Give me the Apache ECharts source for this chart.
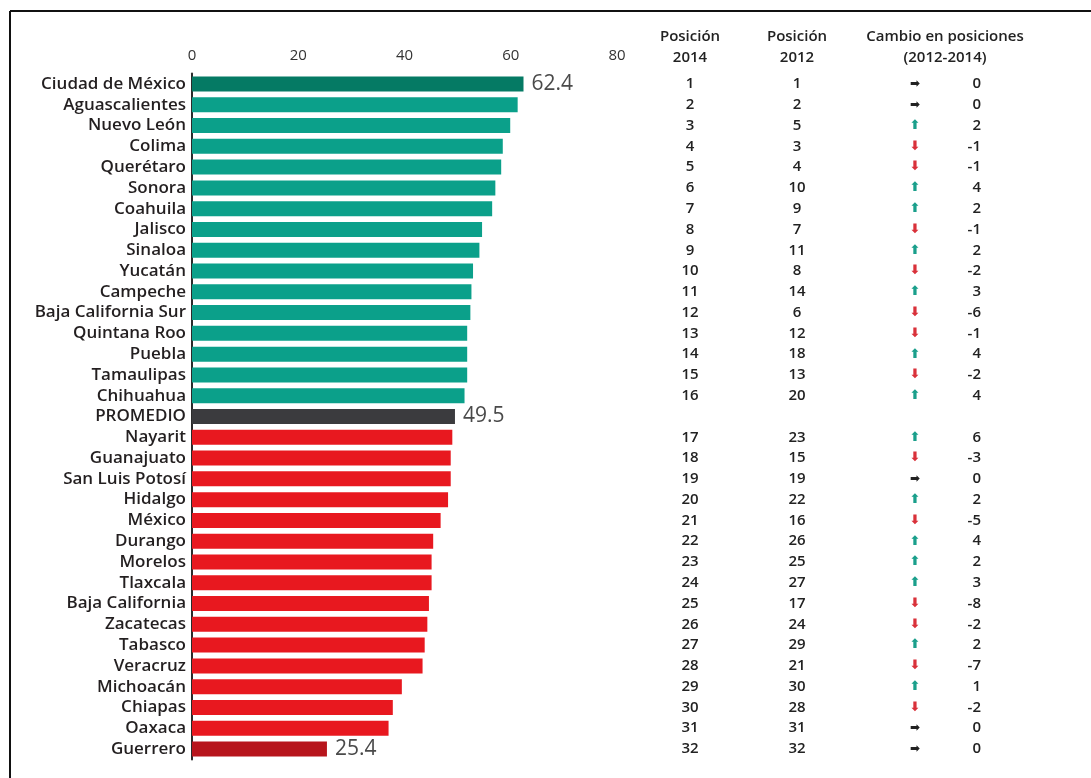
<!DOCTYPE html>
<html>
<head>
<meta charset="utf-8">
<script src="https://cdn.jsdelivr.net/npm/echarts@6/dist/echarts.min.js"></script>
<style>
  html, body { margin: 0; padding: 0; background: #fff; }
  #chart { width: 1091px; height: 778px; }
</style>
</head>
<body>
<div id="chart"></div>
<script>
// estados (incluye la fila de promedio)
const states = ['Ciudad de México', 'Aguascalientes', 'Nuevo León', 'Colima', 'Querétaro', 'Sonora',
  'Coahuila', 'Jalisco', 'Sinaloa', 'Yucatán', 'Campeche', 'Baja California Sur', 'Quintana Roo',
  'Puebla', 'Tamaulipas', 'Chihuahua', 'PROMEDIO', 'Nayarit', 'Guanajuato', 'San Luis Potosí',
  'Hidalgo', 'México', 'Durango', 'Morelos', 'Tlaxcala', 'Baja California', 'Zacatecas', 'Tabasco',
  'Veracruz', 'Michoacán', 'Chiapas', 'Oaxaca', 'Guerrero'];
const scores = [62.4, 61.3, 59.9, 58.5, 58.2, 57.1, 56.5, 54.6, 54.1, 52.9, 52.6, 52.4, 51.8, 51.8,
  51.8, 51.3, 49.5, 49.0, 48.7, 48.7, 48.2, 46.8, 45.4, 45.1, 45.1, 44.6, 44.3, 43.8, 43.4, 39.5,
  37.8, 37.0, 25.4];
const pos2014 = [1, 2, 3, 4, 5, 6, 7, 8, 9, 10, 11, 12, 13, 14, 15, 16, null, 17, 18, 19, 20, 21,
  22, 23, 24, 25, 26, 27, 28, 29, 30, 31, 32];
const pos2012 = [1, 2, 5, 3, 4, 10, 9, 7, 11, 8, 14, 6, 12, 18, 13, 20, null, 23, 15, 19, 22, 16,
  26, 25, 27, 17, 24, 29, 21, 30, 28, 31, 32];
const cambio = [0, 0, 2, -1, -1, 4, 2, -1, 2, -2, 3, -6, -1, 4, -2, 4, null, 6, -3, 0, 2, -5, 4, 2,
  3, -8, -2, 2, -7, 1, -2, 0, 0];
const xTicks = [0, 20, 40, 60, 80];
const labeled = ['Ciudad de México', 'PROMEDIO', 'Guerrero'];

const FONT = '"Open Sans", sans-serif';
const promedio = scores[states.indexOf('PROMEDIO')];

let chart = echarts.init(document.getElementById('chart'));

function barColor(name, i) {
  if (name === 'PROMEDIO') return '#3b3b3e';
  if (i === 0) return '#057a64';
  if (i === states.length - 1) return '#b7151c';
  return scores[i] >= promedio ? '#0ba08a' : '#e8181f';
}

let barData = scores.map((v, i) => ({
  value: v,
  itemStyle: { color: barColor(states[i], i) },
  label: {
    show: labeled.indexOf(states[i]) > -1,
    position: 'right',
    distance: 8,
    fontSize: 21,
    color: '#4a4a4a',
    fontFamily: FONT
  }
}));

// columnas de la tabla: ejes de categorias extra en el mismo grid
function tableAxis(list, offset, align, formatter, rich) {
  return {
    type: 'category',
    gridIndex: 0,
    position: 'right',
    inverse: true,
    offset: offset,
    data: list.map(v => v === null ? '' : String(v)),
    axisLine: { show: false },
    axisTick: { show: false },
    axisLabel: {
      interval: 0,
      margin: 0,
      align: align,
      fontSize: 15,
      fontWeight: 600,
      color: '#222',
      fontFamily: FONT,
      formatter: formatter,
      rich: rich
    }
  };
}

let arrowRich = {
  up: { color: '#1a9f8b', fontSize: 13, fontFamily: 'DejaVu Sans' },
  down: { color: '#d9313a', fontSize: 13, fontFamily: 'DejaVu Sans' },
  same: { color: '#222', fontSize: 12, fontFamily: 'DejaVu Sans' }
};

function arrowFormatter(v) {
  if (v === '') return '';
  let n = Number(v);
  if (n > 0) return '{up|⬆}';
  if (n < 0) return '{down|⬇}';
  return '{same|➡}';
}

let headers = [
  { x: 690, lines: 'Posición\n2014' },
  { x: 797, lines: 'Posición\n2012' },
  { x: 945, lines: 'Cambio en posiciones\n(2012-2014)' }
];

let option = {
  backgroundColor: '#fff',
  animation: false,
  grid: { left: 192, right: 474, top: 73.6, bottom: 18.6, containLabel: false },
  xAxis: {
    type: 'value',
    position: 'top',
    min: 0,
    max: 80,
    interval: 20,
    axisLine: { show: false },
    axisTick: { show: false },
    splitLine: { show: false },
    axisLabel: {
      margin: 10,
      fontSize: 15,
      color: '#333',
      fontFamily: FONT,
      formatter: v => xTicks.indexOf(v) > -1 ? String(v) : ''
    }
  },
  yAxis: [
    {
      type: 'category',
      inverse: true,
      data: states,
      axisLine: { show: true, lineStyle: { color: '#2b2b2b', width: 2 } },
      axisTick: { show: false },
      axisLabel: { interval: 0, margin: 6, fontSize: 17, fontWeight: 600, color: '#231f20', fontFamily: FONT }
    },
    tableAxis(pos2014, 73, 'center'),
    tableAxis(pos2012, 180, 'center'),
    tableAxis(cambio, 298, 'center', arrowFormatter, arrowRich),
    tableAxis(cambio, 364, 'right')
  ],
  series: [
    {
      type: 'bar',
      yAxisIndex: 0,
      barWidth: 15,
      data: barData,
      label: { formatter: p => p.value.toFixed(1) }
    }
  ],
  graphic: [
    { type: 'line', shape: { x1: 10, y1: 11, x2: 1091, y2: 11 }, style: { stroke: '#111', lineWidth: 2 } },
    { type: 'line', shape: { x1: 10, y1: 11, x2: 10, y2: 778 }, style: { stroke: '#111', lineWidth: 2 } }
  ].concat(headers.map(h => ({
    type: 'text',
    x: h.x,
    y: 26,
    style: {
      text: h.lines,
      textAlign: 'center',
      fontSize: 15,
      fontWeight: 600,
      lineHeight: 21,
      fill: '#222',
      fontFamily: FONT
    }
  })))
};

chart.setOption(option);
window.addEventListener('resize', () => chart.resize());
</script>
</body>
</html>
